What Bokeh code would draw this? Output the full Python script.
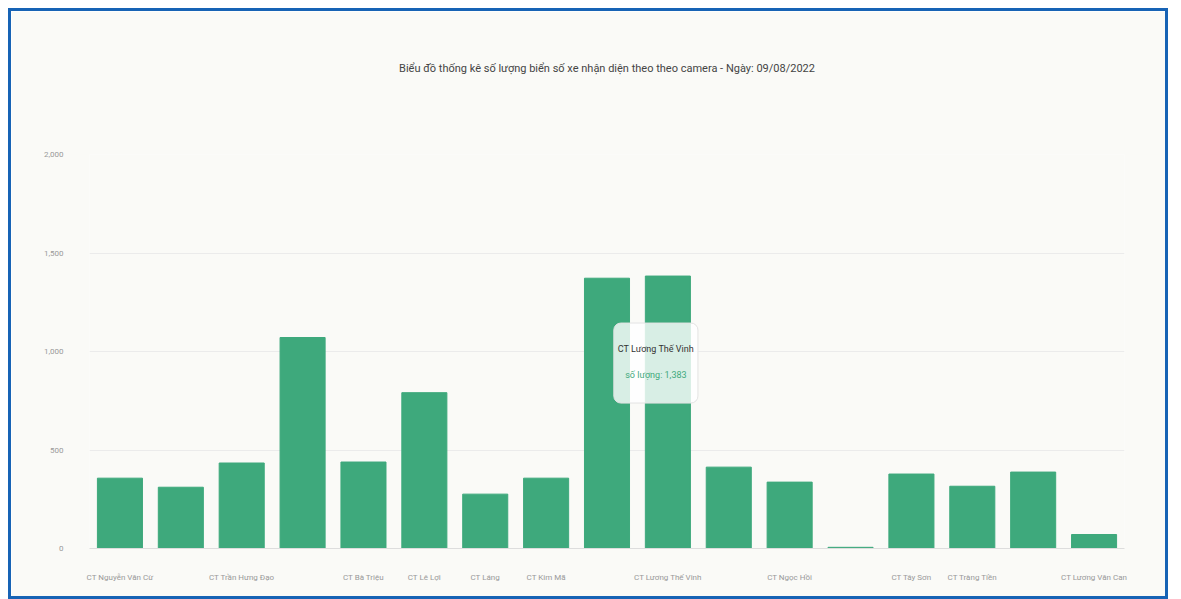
import numpy as np
from bokeh.plotting import figure
from bokeh.models import ColumnDataSource, NumeralTickFormatter, FixedTicker, Label, Range1d, Title
from bokeh.embed import file_html
from bokeh.resources import INLINE

title_text = "Biểu đồ thống kê số lượng biển số xe nhận diện theo theo camera - Ngày: 09/08/2022"
cameras = [
    "CT Nguyễn Văn Cừ", "CT Lê Duẩn", "CT Trần Hưng Đạo", "CT Hùng Vương",
    "CT Bà Triệu", "CT Lê Lợi", "CT Láng", "CT Kim Mã", "CT Đại Cồ Việt",
    "CT Lương Thế Vinh", "CT Phố Huế", "CT Ngọc Hồi", "CT Giải Phóng",
    "CT Tây Sơn", "CT Tràng Tiền", "CT Kim Liên", "CT Lương Văn Can",
]
counts = [357, 311, 434, 1071, 439, 791, 276, 357, 1372, 1383, 413, 337, 6, 378, 316, 388, 71]
tick_labels = [
    "CT Nguyễn Văn Cừ", "", "CT Trần Hưng Đạo", "",
    "CT Bà Triệu", "CT Lê Lợi", "CT Láng", "CT Kim Mã", "",
    "CT Lương Thế Vinh", "", "CT Ngọc Hồi", "",
    "CT Tây Sơn", "CT Tràng Tiền", "", "CT Lương Văn Can",
]
y_ticks = [0, 500, 1000, 1500, 2000]
tooltip_index = 9

pos = np.arange(len(cameras))
src = ColumnDataSource(data=dict(x=pos, cam=cameras, n=counts))

FONT = "Roboto"
BG = "#fafaf7"

p = figure(width=1160, height=591, x_range=Range1d(-0.5, len(cameras) - 0.5),
           y_range=Range1d(0, 2000),
           output_backend="svg", toolbar_location=None,
           min_border_left=78, min_border_right=47, min_border_top=143, min_border_bottom=54)

p.vbar(x="x", top="n", width=0.74, source=src, color="#3ea97c")

p.background_fill_color = BG
p.border_fill_color = BG
p.outline_line_color = None
p.styles = {"border": "3px solid #1763b5", "box-sizing": "border-box",
            "margin-top": "8px", "margin-left": "8px"}

# spacer between the plot area and the title
p.add_layout(Title(text=" ", text_font=FONT, text_font_size="11px", standoff=65), "above")

p.title.text = title_text
p.title.align = "center"
p.title.text_font = FONT
p.title.text_font_size = "11px"
p.title.text_font_style = "normal"
p.title.text_color = "#444444"
p.title.standoff = 0

p.yaxis.ticker = FixedTicker(ticks=y_ticks)
p.yaxis.formatter = NumeralTickFormatter(format="0,0")
p.yaxis.axis_line_color = None
p.yaxis.major_tick_line_color = None
p.yaxis.minor_tick_line_color = None
p.yaxis.major_label_text_font = FONT
p.yaxis.major_label_text_font_size = "8px"
p.yaxis.major_label_text_color = "#999999"
p.yaxis.major_label_standoff = 20

shown = [int(i) for i, t in zip(pos, tick_labels) if t]
p.xaxis.ticker = FixedTicker(ticks=shown)
p.xaxis.major_label_overrides = {int(i): t for i, t in zip(pos, tick_labels) if t}
p.xaxis.axis_line_color = "#dddddd"
p.xaxis.major_tick_line_color = None
p.xaxis.minor_tick_line_color = None
p.xaxis.major_label_text_font = FONT
p.xaxis.major_label_text_font_size = "8px"
p.xaxis.major_label_text_color = "#999999"
p.xaxis.major_label_standoff = 18

p.xgrid.grid_line_color = None
p.ygrid.grid_line_color = "#ebebeb"

tip_x = float(pos[tooltip_index])
tip_box = Label(x=tip_x, y=counts[tooltip_index], x_offset=-12, y_offset=-87,
                text=cameras[tooltip_index], text_font=FONT,
                text_font_size="9px", text_color="#333333",
                text_align="center", text_baseline="middle",
                background_fill_color="#ffffff", background_fill_alpha=0.8,
                border_line_color="#e3e3e3",
                padding=dict(left=4, right=4, top=21, bottom=49), border_radius=7)
tip_val = Label(x=tip_x, y=counts[tooltip_index], x_offset=-12, y_offset=-99,
                text="số lượng: {:,}".format(counts[tooltip_index]), text_font=FONT,
                text_font_size="9px", text_color="#3ea97c",
                text_align="center", text_baseline="middle")
p.add_layout(tip_box)
p.add_layout(tip_val)

open("out.html", "w").write(file_html(p, INLINE))
